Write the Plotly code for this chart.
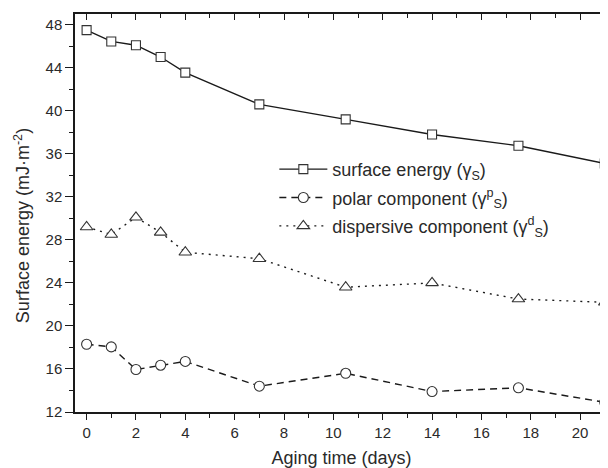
import plotly.graph_objects as go

# aging time (days)
days = [0, 1, 2, 3, 4, 7, 10.5, 14, 17.5, 21]

# surface energy components (mJ/m^2)
surface_energy = [47.5, 46.45, 46.1, 45.0, 43.55, 40.6, 39.2, 37.8, 36.75, 35.1]
polar_component = [18.3, 18.05, 15.95, 16.35, 16.7, 14.4, 15.6, 13.9, 14.25, 12.9]
dispersive_component = [29.2, 28.5, 30.1, 28.7, 26.85, 26.25, 23.6, 24.0, 22.5, 22.2]

x_ticks = [0, 2, 4, 6, 8, 10, 12, 14, 16, 18, 20]
y_ticks = [12, 16, 20, 24, 28, 32, 36, 40, 44, 48]

TEXT = "#2a2a2a"
LINE = "#1a1a1a"
FONT = "Liberation Sans, Arial, sans-serif"


def series(y, name, symbol, size, dash, group):
    return go.Scatter(
        x=days,
        y=y,
        name=name,
        mode="lines+markers",
        legendgroup=group,
        line=dict(color=LINE, width=1.4, dash=dash),
        marker=dict(
            symbol=symbol,
            size=size,
            color="white",
            line=dict(color="#333333", width=1.1),
        ),
    )


fig = go.Figure()
fig.add_trace(series(surface_energy, "surface energy (γ<sub>S</sub>)", "square", 9, "solid", "a"))
fig.add_trace(series(polar_component, "polar component (γ<sup>p</sup><sub>S</sub>)", "circle", 10, "7px,5px", "b"))
fig.add_trace(series(dispersive_component, "dispersive component (γ<sup>d</sup><sub>S</sub>)", "triangle-up", 11, "2px,5px", "c"))

# dummy trace so the top axis is drawn
fig.add_trace(go.Scatter(x=[0], y=[12], xaxis="x2", showlegend=False,
                         mode="markers", marker=dict(opacity=0), hoverinfo="skip"))

x_range = [-0.47, 21.13]
y_range = [12, 49]

# the page body adds an 8px offset, so the figure is drawn 8px smaller
fig.update_layout(
    width=600,
    height=460,
    margin=dict(l=67, r=0, t=6, b=56),
    plot_bgcolor="white",
    paper_bgcolor="white",
    font=dict(family=FONT, color=TEXT, size=15),
    showlegend=True,
    legend=dict(
        x=0.374,
        y=0.656,
        xanchor="left",
        yanchor="top",
        bgcolor="rgba(0,0,0,0)",
        font=dict(size=18, color=TEXT),
        itemwidth=48,
        tracegroupgap=2,
    ),
    xaxis=dict(
        range=x_range,
        tickvals=x_ticks,
        ticks="outside",
        ticklen=6,
        tickwidth=1.3,
        tickcolor=LINE,
        showline=True,
        linecolor=LINE,
        linewidth=1.5,
        showgrid=False,
        zeroline=False,
        tickfont=dict(size=15),
        minor=dict(dtick=1, tick0=0, ticks="outside", ticklen=4, tickcolor=LINE, tickwidth=1.3),
        title=dict(text="Aging time (days)", font=dict(size=18), standoff=12),
    ),
    xaxis2=dict(
        range=x_range,
        overlaying="x",
        side="top",
        tickvals=x_ticks,
        ticks="inside",
        ticklen=6,
        tickwidth=1.3,
        tickcolor=LINE,
        showticklabels=False,
        showline=True,
        linecolor=LINE,
        linewidth=1.5,
        showgrid=False,
        zeroline=False,
        minor=dict(dtick=1, tick0=0, ticks="inside", ticklen=4, tickcolor=LINE, tickwidth=1.3),
    ),
    yaxis=dict(
        range=y_range,
        tickvals=y_ticks,
        ticks="outside",
        ticklen=8,
        tickwidth=1.3,
        tickcolor=LINE,
        showline=True,
        linecolor=LINE,
        linewidth=1.5,
        showgrid=False,
        zeroline=False,
        tickfont=dict(size=15),
        minor=dict(dtick=2, tick0=12, ticks="outside", ticklen=4, tickcolor=LINE, tickwidth=1.3),
    ),
)

fig.add_annotation(
    text="Surface energy (mJ·m<sup>-2</sup>)",
    xref="paper",
    yref="paper",
    x=0,
    y=0.467,
    xshift=-53,
    xanchor="center",
    yanchor="middle",
    textangle=-90,
    showarrow=False,
    font=dict(size=18, color=TEXT),
)

fig.write_html("out.html")
